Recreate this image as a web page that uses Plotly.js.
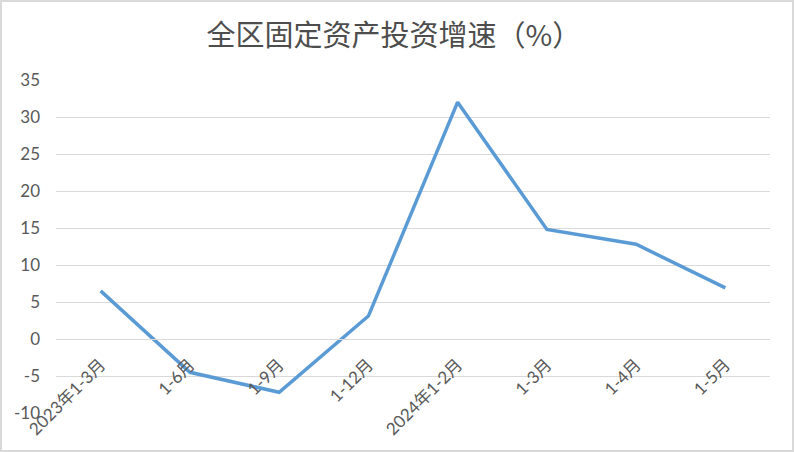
<!DOCTYPE html>
<html>
<head>
<meta charset="utf-8">
<script src="https://cdn.plot.ly/plotly-3.0.1.min.js"></script>
<style>
html,body{margin:0;padding:0;background:#fff;}
#wrap{position:relative;width:794px;height:452px;}
#chart{width:794px;height:452px;}
#frame{position:absolute;left:0;top:0;width:794px;height:452px;box-sizing:border-box;border:2px solid #d9d9d9;pointer-events:none;}
</style>
</head>
<body>
<div id="wrap"><div id="chart"></div><div id="frame"></div></div>
<script>
const categories = ["2023年1-3月","1-6月","1-9月","1-12月","2024年1-2月","1-3月","1-4月","1-5月"];
const growth = [6.5, -4.5, -7.2, 3.1, 32.0, 14.8, 12.8, 6.9];
const yTicks = [-10, -5, 0, 5, 10, 15, 20, 25, 30, 35];
const titleText = "全区固定资产投资增速（%）";

const fontFam = "Lato, 'Noto Sans CJK SC', sans-serif";

Plotly.newPlot('chart', [{
  type: 'scatter',
  mode: 'lines',
  x: categories,
  y: growth,
  line: {color: '#5b9bd5', width: 3.5},
  hoverinfo: 'x+y'
}], {
  width: 794, height: 452,
  margin: {l: 56, r: 24, t: 80, b: 39, pad: 0},
  paper_bgcolor: '#ffffff',
  plot_bgcolor: '#ffffff',
  showlegend: false,
  title: {
    text: titleText,
    x: 0.496, xref: 'container', xanchor: 'center',
    y: 0.92, yref: 'container', yanchor: 'middle',
    font: {family: "'Noto Sans CJK SC', sans-serif", size: 29, color: '#4d4d4d'}
  },
  xaxis: {
    type: 'category',
    range: [-0.5, 7.5],
    anchor: 'free',
    position: 10/45,
    showgrid: false,
    showline: true,
    linecolor: '#d9d9d9',
    linewidth: 1,
    ticks: '',
    tickangle: -45,
    ticklabelstandoff: 8,
    tickfont: {family: fontFam, size: 17, color: '#595959'},
    fixedrange: true
  },
  yaxis: {
    range: [-10, 35],
    domain: [0, 1],
    tickvals: yTicks,
    ticktext: yTicks.map(String),
    showgrid: true,
    gridcolor: '#d9d9d9',
    gridwidth: 1,
    zeroline: false,
    showline: false,
    ticks: '',
    ticklabelstandoff: 15,
    tickfont: {family: fontFam, size: 17, color: '#595959'},
    fixedrange: true
  }
}, {displayModeBar: false, staticPlot: true});
</script>
</body>
</html>
